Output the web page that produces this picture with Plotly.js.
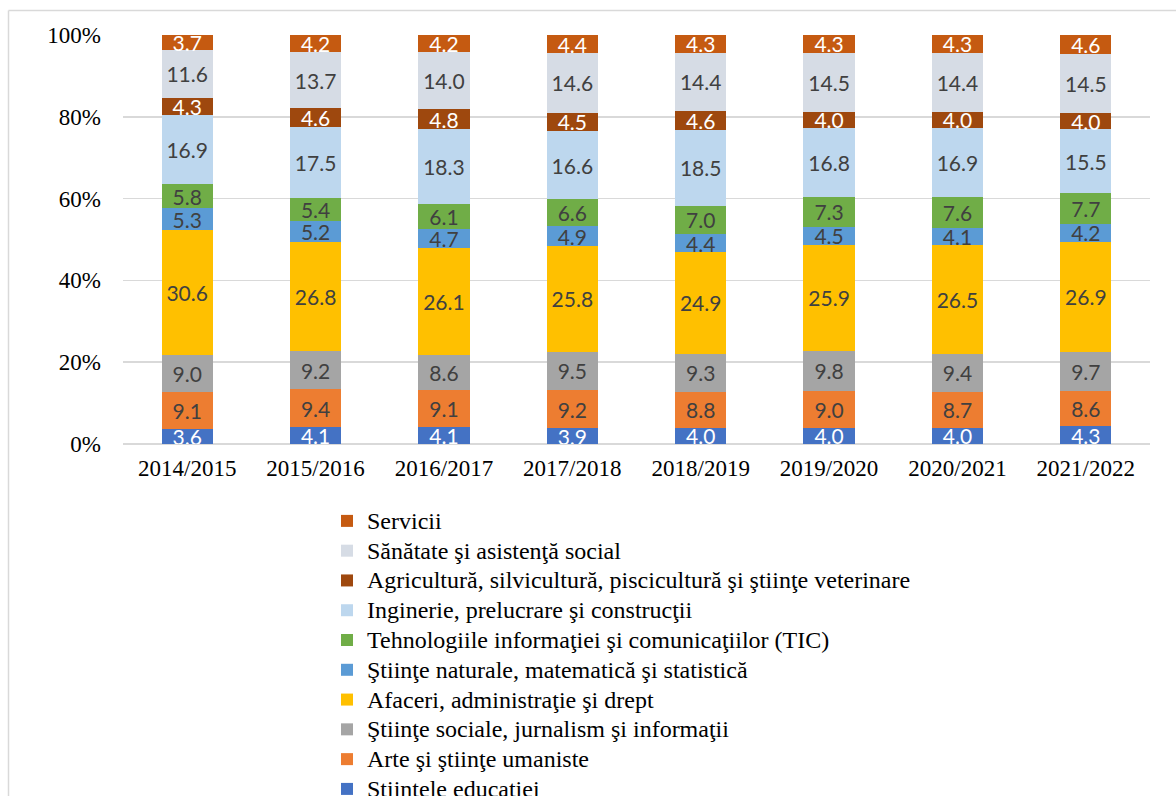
<!DOCTYPE html>
<html>
<head>
<meta charset="utf-8">
<script src="https://cdn.plot.ly/plotly-3.0.1.min.js"></script>
<style>html,body{margin:0;padding:0;background:#fff;}#chart{width:1176px;height:796px;}</style>
</head>
<body>
<div id="chart"></div>
<script>
const years = ["2014/2015","2015/2016","2016/2017","2017/2018","2018/2019","2019/2020","2020/2021","2021/2022"];

const stiinteleEducatiei = [3.6, 4.1, 4.1, 3.9, 4.0, 4.0, 4.0, 4.3];
const arte = [9.1, 9.4, 9.1, 9.2, 8.8, 9.0, 8.7, 8.6];
const stiinteSociale = [9.0, 9.2, 8.6, 9.5, 9.3, 9.8, 9.4, 9.7];
const afaceri = [30.6, 26.8, 26.1, 25.8, 24.9, 25.9, 26.5, 26.9];
const stiinteNaturale = [5.3, 5.2, 4.7, 4.9, 4.4, 4.5, 4.1, 4.2];
const tic = [5.8, 5.4, 6.1, 6.6, 7.0, 7.3, 7.6, 7.7];
const inginerie = [16.9, 17.5, 18.3, 16.6, 18.5, 16.8, 16.9, 15.5];
const agricultura = [4.3, 4.6, 4.8, 4.5, 4.6, 4.0, 4.0, 4.0];
const sanatate = [11.6, 13.7, 14.0, 14.6, 14.4, 14.5, 14.4, 14.5];
const servicii = [3.7, 4.2, 4.2, 4.4, 4.3, 4.3, 4.3, 4.6];

const series = [
  {name: "Stiintele educatiei", y: stiinteleEducatiei, color: "#4472C4", tc: "#FFFFFF"},
  {name: "Arte şi ştiinţe umaniste", y: arte, color: "#ED7D31", tc: "#404040"},
  {name: "Ştiinţe sociale, jurnalism şi informaţii", y: stiinteSociale, color: "#A5A5A5", tc: "#404040"},
  {name: "Afaceri, administraţie şi drept", y: afaceri, color: "#FFC000", tc: "#404040"},
  {name: "Ştiinţe naturale, matematică şi statistică", y: stiinteNaturale, color: "#5B9BD5", tc: "#404040"},
  {name: "Tehnologiile informaţiei şi comunicaţiilor (TIC)", y: tic, color: "#70AD47", tc: "#404040"},
  {name: "Inginerie, prelucrare şi construcţii", y: inginerie, color: "#BDD7EE", tc: "#404040"},
  {name: "Agricultură, silvicultură, piscicultură şi ştiinţe veterinare", y: agricultura, color: "#9E480E", tc: "#FFFFFF"},
  {name: "Sănătate şi asistenţă social", y: sanatate, color: "#D6DCE5", tc: "#404040"},
  {name: "Servicii", y: servicii, color: "#C55A11", tc: "#FFFFFF"}
];

const SERIF = "Liberation Serif";
const SANS = "Lato";

const traces = series.map(s => ({
  type: "bar",
  name: '<span style="font-size:24px">' + s.name + '</span>',
  x: years,
  y: s.y,
  text: s.y.map(v => v.toFixed(1)),
  texttemplate: "%{text}",
  textposition: "inside",
  insidetextanchor: "middle",
  constraintext: "none",
  textangle: 0,
  textfont: {family: SANS, size: 21, color: s.tc},
  insidetextfont: {family: SANS, size: 21, color: s.tc},
  marker: {color: s.color, line: {width: 0}},
  hoverinfo: "name+y"
}));

const L = 123, R = 26, T = 35, B = 352;
const W = 1176 - L - R, H = 796 - T - B;
const px = v => (v - L) / W;
const py = v => (796 - B - v) / H;

const layout = {
  width: 1176, height: 796,
  margin: {l: L, r: R, t: T, b: B, autoexpand: false},
  paper_bgcolor: "#FFFFFF",
  plot_bgcolor: "#FFFFFF",
  barmode: "stack",
  barnorm: "percent",
  bargap: 0.6,
  font: {family: SERIF, color: "#000000", size: 20},
  xaxis: {
    type: "category",
    showgrid: false,
    showline: false,
    zeroline: false,
    ticks: "",
    automargin: false,
    tickfont: {family: SERIF, size: 23, color: "#000"},
    ticklabelstandoff: 8
  },
  yaxis: {
    range: [0, 100],
    tickvals: [0, 20, 40, 60, 80, 100],
    ticktext: ["0%", "20%", "40%", "60%", "80%", "100%"],
    showgrid: true,
    gridcolor: "#D9D9D9",
    gridwidth: 1.5,
    zeroline: true,
    zerolinecolor: "#D9D9D9",
    zerolinewidth: 1.5,
    showline: false,
    ticks: "",
    automargin: false,
    tickfont: {family: SERIF, size: 23, color: "#000"},
    ticklabelstandoff: 21
  },
  legend: {
    orientation: "v",
    traceorder: "reversed",
    x: px(327), xanchor: "left",
    y: py(501), yanchor: "top",
    font: {family: SERIF, size: 20.6, color: "#000"},
    bgcolor: "rgba(0,0,0,0)",
    itemclick: false
  },
  shapes: [
    {type: "line", xref: "paper", yref: "paper", x0: px(8.5), x1: px(1190), y0: py(10.5), y1: py(10.5), line: {color: "#D9D9D9", width: 1.5}},
    {type: "line", xref: "paper", yref: "paper", x0: px(8.5), x1: px(8.5), y0: py(10.5), y1: py(810), line: {color: "#D9D9D9", width: 1.5}}
  ],
  showlegend: true
};

Plotly.newPlot("chart", traces, layout, {displayModeBar: false, staticPlot: true});
</script>
</body>
</html>
